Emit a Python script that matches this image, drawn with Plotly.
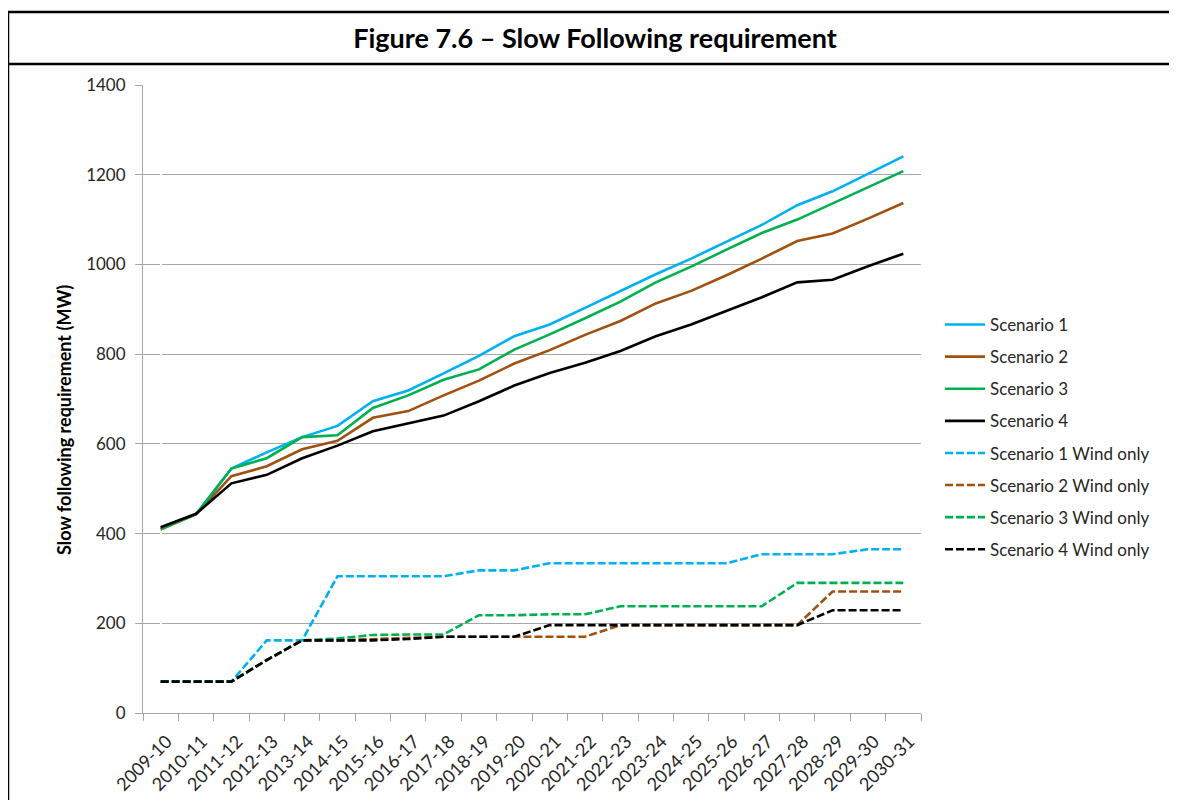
import plotly.graph_objects as go

years = ["2009-10", "2010-11", "2011-12", "2012-13", "2013-14", "2014-15", "2015-16",
         "2016-17", "2017-18", "2018-19", "2019-20", "2020-21", "2021-22", "2022-23",
         "2023-24", "2024-25", "2025-26", "2026-27", "2027-28", "2028-29", "2029-30", "2030-31"]

scenario1 = [413, 443, 545, 581, 615, 640, 695, 719, 757, 796, 840, 866, 903, 940,
             978, 1013, 1050, 1088, 1132, 1163, 1202, 1241]
scenario2 = [409, 443, 528, 550, 588, 607, 658, 673, 708, 741, 779, 809, 843, 874,
             913, 941, 976, 1013, 1052, 1069, 1102, 1137]
scenario3 = [410, 443, 545, 568, 615, 619, 680, 708, 743, 766, 810, 844, 880, 917,
             960, 995, 1033, 1070, 1100, 1136, 1171, 1208]
scenario4 = [414, 444, 512, 531, 568, 596, 628, 646, 663, 695, 730, 758, 781, 807,
             840, 866, 896, 927, 960, 966, 996, 1024]

wind1 = [70, 70, 70, 162, 162, 305, 305, 305, 305, 318, 318, 334, 334, 334,
         334, 334, 334, 354, 354, 354, 365, 365]
wind2 = [70, 70, 70, 118, 162, 162, 165, 167, 170, 170, 170, 170, 170, 196,
         196, 196, 196, 196, 196, 271, 271, 271]
wind3 = [70, 70, 70, 118, 162, 166, 174, 175, 175, 218, 218, 220, 220, 238,
         238, 238, 238, 238, 290, 290, 290, 290]
wind4 = [70, 70, 70, 118, 162, 162, 162, 165, 170, 170, 170, 196, 196, 196,
         196, 196, 196, 196, 196, 229, 229, 229]

names = ["Scenario 1", "Scenario 2", "Scenario 3", "Scenario 4",
         "Scenario 1 Wind only", "Scenario 2 Wind only", "Scenario 3 Wind only", "Scenario 4 Wind only"]
series = [scenario1, scenario2, scenario3, scenario4, wind1, wind2, wind3, wind4]
colors = ["#00B0F0", "#A0510F", "#00B050", "#000000"] * 2
dashes = ["solid"] * 4 + ["8px,3px"] * 4

FONT = "Lato"
idx = list(range(len(years)))

fig = go.Figure()
for i, (nm, vals) in enumerate(zip(names, series)):
    fig.add_trace(go.Scatter(
        x=idx, y=vals, name=nm, mode="lines", legendgroup=nm,
        line=dict(color=colors[i], width=2.6, dash=dashes[i]),
    ))

# page offset (browser body margin) of 8px
OFF = 8
PL, PR, PT, PB = 143, 921, 85, 713  # plot area in page pixels
W, H = PR - PL, PB - PT


def px(xp):
    return (xp - PL) / W


def py(yp):
    return (PB - yp) / H


grid = "#A6A6A6"
fig.update_layout(
    width=1177, height=800,
    margin=dict(l=PL - OFF, r=1177 - (PR - OFF), t=PT - OFF, b=800 - (PB - OFF)),
    paper_bgcolor="white", plot_bgcolor="white",
    font=dict(family=FONT, size=14, color="#262626"),
    title=dict(text="<b>Figure 7.6 – Slow Following requirement</b>",
               x=(595 - OFF) / 1177, xanchor="center", xref="container",
               y=1 - (39 - OFF) / 800, yanchor="middle", yref="container",
               font=dict(family=FONT, size=27, color="#000000")),
    showlegend=True,
    legend=dict(x=px(940), xanchor="left", y=py(437), yanchor="middle",
                traceorder="grouped", tracegroupgap=7, itemwidth=40,
                font=dict(family=FONT, size=17, color="#262626"),
                bgcolor="rgba(0,0,0,0)"),
    xaxis=dict(range=[-0.5, len(years) - 0.5], tickangle=-45, showgrid=False,
               automargin=False,
               tickmode="array", tickvals=[i + 0.17 for i in idx], ticktext=years,
               showline=True, linecolor=grid, linewidth=1,
               ticks="", ticklabelstandoff=10,
               minor=dict(tick0=-0.5, dtick=1, ticks="outside", ticklen=7,
                          tickcolor=grid, showgrid=False),
               tickfont=dict(family=FONT, size=18, color="#262626")),
    yaxis=dict(range=[0, 1400], dtick=200, showgrid=True, gridcolor=grid, gridwidth=1,
               zeroline=False, showline=True, linecolor=grid, linewidth=1,
               automargin=False,
               ticks="outside", ticklen=7, tickcolor=grid, ticklabelstandoff=6,
               tickfont=dict(family=FONT, size=17, color="#262626")),
    annotations=[
        dict(text="<b>Slow following requirement (MW)</b>", textangle=-90,
             xref="paper", yref="paper", x=px(64), y=py(420),
             xanchor="center", yanchor="middle", showarrow=False,
             font=dict(family=FONT, size=18, color="#000000")),
    ],
    shapes=[
        dict(type="line", xref="paper", yref="paper", x0=px(8), x1=px(1190),
             y0=py(12), y1=py(12), line=dict(color="black", width=2.5)),
        dict(type="line", xref="paper", yref="paper", x0=px(8), x1=px(1190),
             y0=py(64), y1=py(64), line=dict(color="black", width=2.5)),
        dict(type="line", xref="paper", yref="paper", x0=px(8), x1=px(8),
             y0=py(12), y1=py(820), line=dict(color="black", width=2.5)),
    ],
)

fig.write_html("out.html")
